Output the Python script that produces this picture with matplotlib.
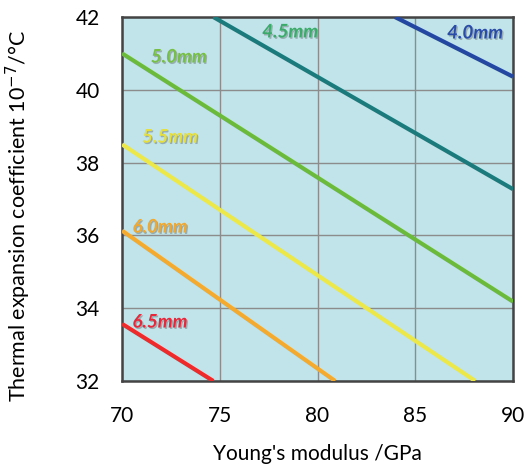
import matplotlib.pyplot as plt
import matplotlib.patheffects as pe

# line endpoints (x = Young's modulus, y = CTE)
labels = ['6.5mm', '6.0mm', '5.5mm', '5.0mm', '4.5mm', '4.0mm']
x_start = [70, 70, 70, 70, 74.67, 83.96]
y_start = [33.57, 36.13, 38.50, 41.0, 42, 42]
x_end = [74.67, 80.9, 88.06, 90, 90, 90]
y_end = [32, 32, 32, 34.18, 37.27, 40.36]
line_colors = ['#ee2a2a', '#f4aa2e', '#ece84a', '#6cba3c', '#1b7b7c', '#2448a2']
label_colors = ['#e8283a', '#f0a830', '#e6df3e', '#78bf46', '#3aab68', '#2a4ba8']
label_x = [71.94, 71.94, 72.45, 72.9, 78.6, 88.06]
label_y = [33.62, 36.23, 38.7, 40.9, 41.59, 41.56]

plt.rcParams['font.family'] = ['Lato', 'DejaVu Sans']

fig = plt.figure(figsize=(5.26, 4.75), dpi=100)
ax = fig.add_axes([122/526, 1 - 381/475, 391/526, 364/475])
ax.set_facecolor('#c0e4ea')

for i in range(len(labels)):
    ax.plot([x_start[i], x_end[i]], [y_start[i], y_end[i]],
            color=line_colors[i], lw=3, solid_capstyle='butt', zorder=3)
    ax.text(label_x[i], label_y[i], labels[i], color=label_colors[i],
            fontsize=13.5, fontstyle='italic', fontweight='bold',
            ha='center', va='center', zorder=4,
            path_effects=[pe.withSimplePatchShadow(offset=(1, -1), shadow_rgbFace='#7a8a8c', alpha=0.6)])

ax.set_xlim(70, 90)
ax.set_ylim(32, 42)
ax.set_xticks([70, 75, 80, 85, 90])
ax.set_yticks([32, 34, 36, 38, 40, 42])
ax.grid(True, color='#8c8c8c', lw=1)
ax.set_axisbelow(True)
ax.tick_params(length=0, labelsize=15)
ax.tick_params(axis='x', pad=18)
ax.tick_params(axis='y', pad=16)
for s in ax.spines.values():
    s.set_color('#444444')
    s.set_linewidth(1.8)

ax.set_xlabel("Young's modulus /GPa", fontsize=15)
ax.set_ylabel('Thermal expansion coefficient 10$^{-7}$/°C', fontsize=15.5)
ax.xaxis.set_label_coords(0.5, -0.173)
ax.yaxis.set_label_coords(-0.228, 0.455)

plt.savefig('out.png', dpi=100)
